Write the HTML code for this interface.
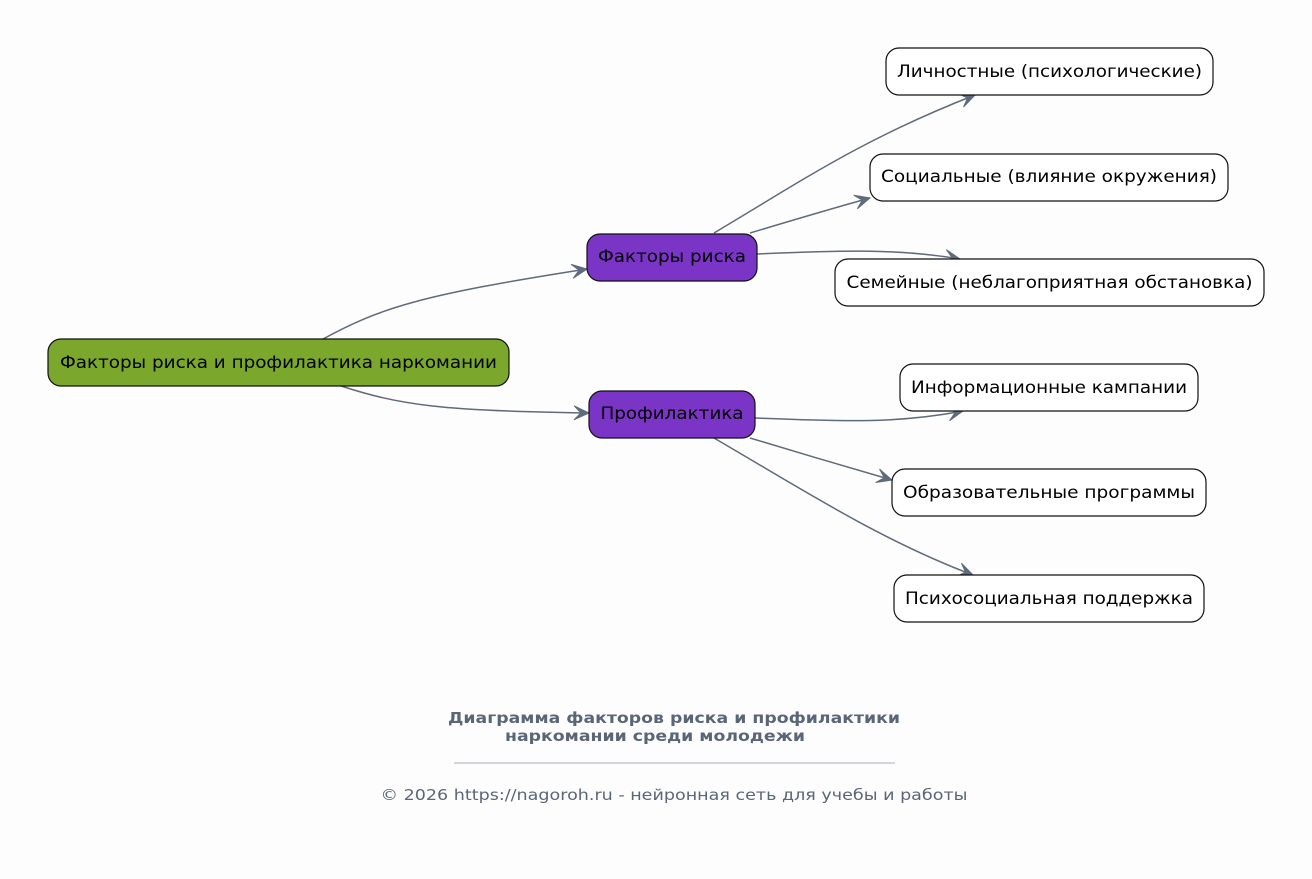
<!DOCTYPE html>
<html><head><meta charset="utf-8"><style>
html,body{margin:0;padding:0;background:#fdfdfd;}
svg{display:block;font-family:"DejaVu Sans","Liberation Sans",sans-serif;}
</style></head><body>
<svg width="1312" height="879" viewBox="0 0 1312 879" xmlns="http://www.w3.org/2000/svg">
<defs>
<marker id="a" markerWidth="20" markerHeight="16" refX="17" refY="8" orient="auto" markerUnits="userSpaceOnUse">
<path d="M2,1 L17,8 L2,15 L9,8 Z" fill="#5f6b7a" stroke="#5f6b7a" stroke-width="1"/>
</marker>
</defs>
<rect width="1312" height="879" fill="#fdfdfd"/>
<g fill="none" stroke="#5f6b7a" stroke-width="1.5" marker-end="url(#a)">
<path d="M323,339 C380,308 420,295 587,269"/>
<path d="M341,386 C400,405 440,411 589,413"/>
<path d="M714,233 C800,182 860,140 975,95"/>
<path d="M750,233 C800,218 830,209 870,198"/>
<path d="M757,254 C850,250 900,249 960,259"/>
<path d="M755,418 C850,422 900,423 963,411"/>
<path d="M750,438 C800,453 840,465 892,480"/>
<path d="M714,438 C800,488 880,540 973,575"/>
</g>
<g stroke="#111" stroke-width="1.2">
<rect x="48" y="339" width="461" height="47" rx="13" fill="#7aa72c"/>
<rect x="587" y="234" width="170" height="47" rx="13" fill="#7a35c6"/>
<rect x="589" y="391" width="166" height="47" rx="13" fill="#7a35c6"/>
<rect x="886" y="48" width="327" height="47" rx="13" fill="#fff"/>
<rect x="870" y="154" width="358" height="47" rx="13" fill="#fff"/>
<rect x="835" y="259" width="429" height="47" rx="13" fill="#fff"/>
<rect x="900" y="364" width="298" height="47" rx="13" fill="#fff"/>
<rect x="892" y="469" width="314" height="47" rx="13" fill="#fff"/>
<rect x="894" y="575" width="310" height="47" rx="13" fill="#fff"/>
</g>
<g font-size="16.5" fill="#000" text-anchor="middle">
<text x="278.5" y="368" textLength="437" lengthAdjust="spacingAndGlyphs">Факторы риска и профилактика наркомании</text>
<text x="672" y="262" textLength="148" lengthAdjust="spacingAndGlyphs">Факторы риска</text>
<text x="672" y="419" textLength="143" lengthAdjust="spacingAndGlyphs">Профилактика</text>
<text x="1049.5" y="77" textLength="305" lengthAdjust="spacingAndGlyphs">Личностные (психологические)</text>
<text x="1049" y="182" textLength="336" lengthAdjust="spacingAndGlyphs">Социальные (влияние окружения)</text>
<text x="1049.5" y="288" textLength="406" lengthAdjust="spacingAndGlyphs">Семейные (неблагоприятная обстановка)</text>
<text x="1049" y="393" textLength="276" lengthAdjust="spacingAndGlyphs">Информационные кампании</text>
<text x="1049" y="498" textLength="292" lengthAdjust="spacingAndGlyphs">Образовательные программы</text>
<text x="1049" y="604" textLength="288" lengthAdjust="spacingAndGlyphs">Психосоциальная поддержка</text>
</g>
<g fill="#5a6678" text-anchor="middle">
<text x="674" y="723" font-size="15" font-weight="bold" textLength="452" lengthAdjust="spacingAndGlyphs">Диаграмма факторов риска и профилактики</text>
<text x="655" y="741" font-size="15" font-weight="bold" textLength="300" lengthAdjust="spacingAndGlyphs">наркомании среди молодежи</text>
<line x1="454" y1="763" x2="895" y2="763" stroke="#8a94a2" stroke-width="0.8"/>
<text x="674" y="800" font-size="15.5" textLength="587" lengthAdjust="spacingAndGlyphs">© 2026 https://nagoroh.ru - нейронная сеть для учебы и работы</text>
</g>
</svg>
</body></html>
